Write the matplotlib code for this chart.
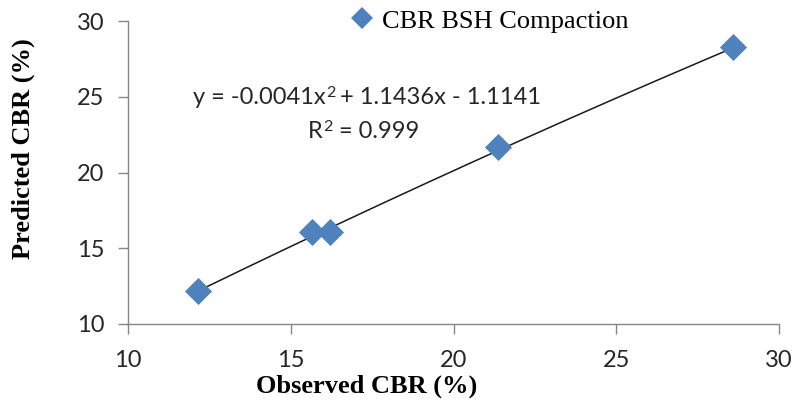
import numpy as np
import matplotlib.pyplot as plt
from matplotlib.lines import Line2D

# observed vs predicted CBR values
observed = [12.15, 15.65, 16.2, 21.37, 28.6]
predicted = [12.2, 16.07, 16.05, 21.68, 28.28]

# polynomial trendline coefficients (a*x^2 + b*x + c)
coef_a, coef_b, coef_c = -0.0041, 1.1436, -1.1141
r_squared = 0.999

blue = "#4F81BD"
grey = "#868686"
dark = "#262626"

fig = plt.figure(figsize=(7.95, 4.03), dpi=100, facecolor="white")
ax = fig.add_axes([128 / 795, 1 - 324 / 403, (779 - 128) / 795, (324 - 21) / 403])

xs = np.linspace(min(observed), max(observed), 200)
ys = coef_a * xs ** 2 + coef_b * xs + coef_c
ax.plot(xs, ys, color="#1a1a1a", linewidth=1.1, zorder=2)

ax.scatter(observed, predicted, marker="D", s=190, color=blue, zorder=3,
           linewidths=0)

ax.set_xlim(10, 30)
ax.set_ylim(10, 30)
ax.set_xticks([10, 15, 20, 25, 30])
ax.set_yticks([10, 15, 20, 25, 30])

for side in ["top", "right"]:
    ax.spines[side].set_visible(False)
for side in ["left", "bottom"]:
    ax.spines[side].set_color(grey)
    ax.spines[side].set_linewidth(1.0)
ax.tick_params(axis="both", colors=grey, length=7, width=1.0,
               labelcolor=dark, labelsize=17)
ax.tick_params(axis="y", pad=10)
ax.tick_params(axis="x", pad=12)
for lbl in ax.get_xticklabels() + ax.get_yticklabels():
    lbl.set_fontfamily("Lato")

# axis titles
fig.text(367 / 795, 1 - 386 / 403, "Observed CBR (%)",
         fontfamily="Liberation Serif", fontweight="bold", fontsize=19,
         ha="center", va="center")
fig.text(23 / 795, 1 - 149 / 403, "Predicted CBR (%)",
         fontfamily="Liberation Serif", fontweight="bold", fontsize=19,
         rotation=90, ha="center", va="center")

# trendline equation, the superscript drawn as a smaller raised text
eq_left = "y = {:.4f}x".format(coef_a)
eq_right = "+ {:.4f}x - {:.4f}".format(coef_b, -coef_c)
t1 = fig.text(193 / 795, 1 - 98 / 403, eq_left, fontfamily="Lato",
              fontsize=17, color=dark, ha="left", va="center")
fig.canvas.draw()
bb = t1.get_window_extent()
t2 = fig.text(bb.x1 / 795 + 0.5 / 795, 1 - 93 / 403, "2", fontfamily="Lato",
              fontsize=11.5, color=dark, ha="left", va="center")
bb2 = t2.get_window_extent()
fig.text(bb2.x1 / 795 + 4 / 795, 1 - 98 / 403, eq_right, fontfamily="Lato",
         fontsize=17, color=dark, ha="left", va="center")

t3 = fig.text(308 / 795, 1 - 132 / 403, "R", fontfamily="Lato", fontsize=17,
              color=dark, ha="left", va="center")
bb3 = t3.get_window_extent()
t4 = fig.text(bb3.x1 / 795 + 0.5 / 795, 1 - 127 / 403, "2", fontfamily="Lato",
              fontsize=11.5, color=dark, ha="left", va="center")
bb4 = t4.get_window_extent()
fig.text(bb4.x1 / 795 + 6 / 795, 1 - 132 / 403, "= {}".format(r_squared),
         fontfamily="Lato", fontsize=17, color=dark, ha="left", va="center")

handle = Line2D([0], [0], marker="D", linestyle="none", color=blue,
                markersize=11, markeredgewidth=0)
fig.legend(handles=[handle], labels=["CBR BSH Compaction"], loc="center left",
           bbox_to_anchor=(333 / 795, 1 - 21 / 403), frameon=False,
           prop={"family": "Liberation Serif", "size": 19},
           handletextpad=0.15, handlelength=1.2, borderpad=0)

fig.savefig("out.png", dpi=100, facecolor="white")
